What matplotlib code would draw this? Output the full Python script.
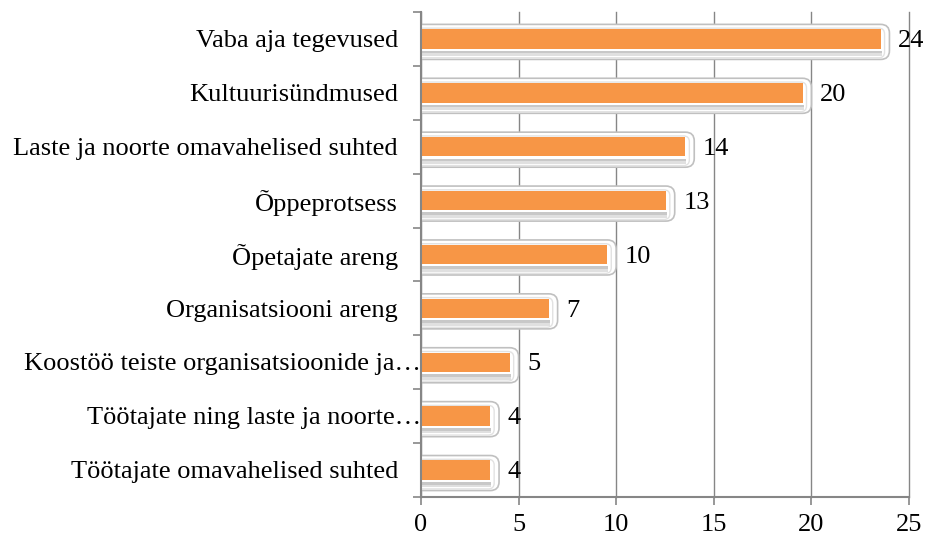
import matplotlib.pyplot as plt
from matplotlib.patches import FancyBboxPatch

categories = ['Vaba aja tegevused', 'Kultuurisündmused', 'Laste ja noorte omavahelised suhted',
              'Õppeprotsess', 'Õpetajate areng', 'Organisatsiooni areng',
              'Koostöö teiste organisatsioonide ja…', 'Töötajate ning laste ja noorte…',
              'Töötajate omavahelised suhted']
values = [24, 20, 14, 13, 10, 7, 5, 4, 4]
truncated = [False, False, False, False, False, False, True, True, False]

orange = '#F79646'
axcol = '#868686'
plt.rcParams['font.family'] = ['Liberation Serif', 'DejaVu Serif']
fs = 19

fig = plt.figure(figsize=(9.26, 5.4), dpi=100)
ax = fig.add_axes([0.4546, 0.0796, 0.527, 0.8982])

ax.set_xlim(0, 25)
ax.set_ylim(8.5, -0.5)

# units: 1 x unit ~19.5 px, 1 y unit ~54 px
asp = 19.5 / 54.0
for i, v in enumerate(values):
    # outer bevel frame
    outer = FancyBboxPatch((-1, i - 0.27), v + 1, 0.65,
                           boxstyle='round,pad=0,rounding_size=0.45',
                           mutation_aspect=asp, facecolor='white',
                           edgecolor='#c0c0c0', linewidth=1.2, zorder=3)
    ax.add_patch(outer)
    inner = FancyBboxPatch((-1, i - 0.2), v + 0.75, 0.55,
                           boxstyle='round,pad=0,rounding_size=0.3',
                           mutation_aspect=asp, facecolor='none',
                           edgecolor='#e2e2e2', linewidth=1.0, zorder=3)
    ax.add_patch(inner)
    # shadow strip under the orange bar
    ax.add_patch(FancyBboxPatch((-1, i + 0.22), v + 0.6, 0.05,
                                boxstyle='square,pad=0', facecolor='#c8c8c8',
                                edgecolor='none', zorder=3))
    ax.add_patch(FancyBboxPatch((-1, i + 0.27), v + 0.6, 0.05,
                                boxstyle='square,pad=0', facecolor='#e0e0e0',
                                edgecolor='none', zorder=3))
    ax.barh(i, v - 0.45, height=0.36, color=orange, zorder=4)
    ax.text(v + 0.45, i + 0.04, str(v), ha='left', va='center', fontsize=fs, zorder=5)

ax.set_yticks([])
ax.set_yticks([i - 0.5 for i in range(len(values) + 1)], minor=True)
ax.tick_params(axis='y', which='minor', length=6, color=axcol, width=1.2)
for i, c in enumerate(categories):
    pad = 0 if truncated[i] else 23
    ax.annotate(c, xy=(0, i + 0.04), xycoords=('axes fraction', 'data'),
                xytext=(-pad * 0.72, 0), textcoords='offset points',
                ha='right', va='center', fontsize=fs)

ax.set_xticks([0, 5, 10, 15, 20, 25])
ax.tick_params(axis='x', length=6, color=axcol, width=1.2, labelsize=fs, pad=6)
ax.grid(axis='x', color=axcol, linewidth=1.0, zorder=0)
for gl in ax.get_xgridlines():
    gl.set_clip_on(False)
ax.set_axisbelow(True)
for s in ['top', 'right']:
    ax.spines[s].set_visible(False)
for s in ['left', 'bottom']:
    ax.spines[s].set_color(axcol)
    ax.spines[s].set_linewidth(1.5)
    ax.spines[s].set_zorder(6)

fig.savefig('out.png', dpi=100)
